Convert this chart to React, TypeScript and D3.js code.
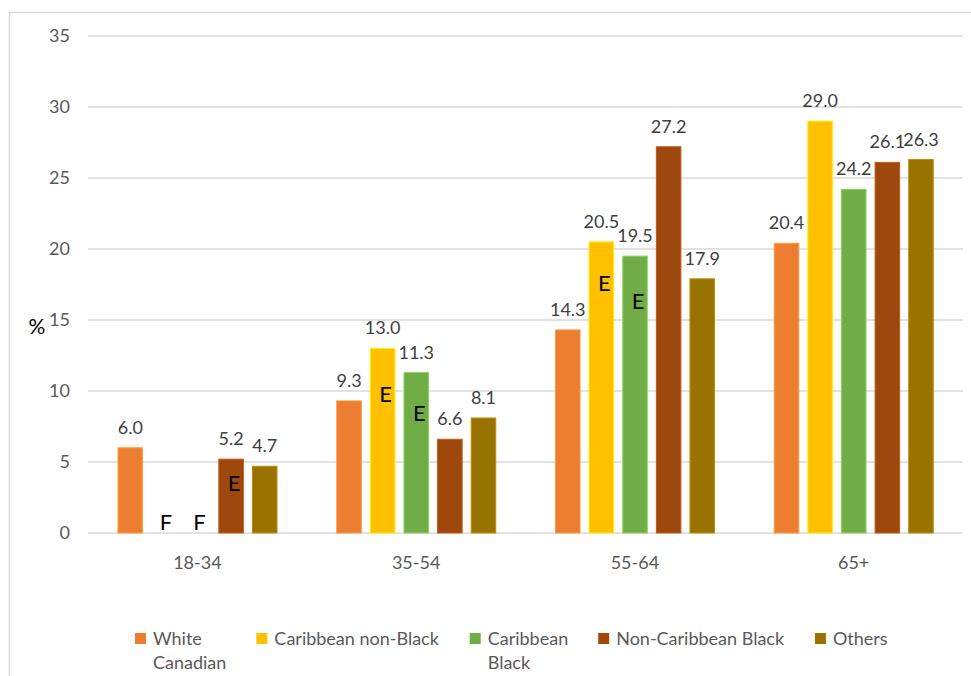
import React, { useRef, useEffect } from "react";
import * as d3 from "d3";

// age groups on the x axis
const categories = ["18-34", "35-54", "55-64", "65+"];
const yTicks = [0, 5, 10, 15, 20, 25, 30, 35];

// percentages per group (null = not reported, "F")
const whiteCanadian = [6.0, 9.3, 14.3, 20.4];
const caribbeanNonBlack = [null, 13.0, 20.5, 29.0];
const caribbeanBlack = [null, 11.3, 19.5, 24.2];
const nonCaribbeanBlack = [5.2, 6.6, 27.2, 26.1];
const others = [4.7, 8.1, 17.9, 26.3];

const seriesNames = [
  "White Canadian",
  "Caribbean non-Black",
  "Caribbean Black",
  "Non-Caribbean Black",
  "Others",
];
const legendLines = [
  ["White", "Canadian"],
  ["Caribbean non-Black"],
  ["Caribbean", "Black"],
  ["Non-Caribbean Black"],
  ["Others"],
];
const seriesValues = [whiteCanadian, caribbeanNonBlack, caribbeanBlack, nonCaribbeanBlack, others];
const colors = ["#ED7D31", "#FFC000", "#70AD47", "#9E480E", "#997300"];

// "E" = use with caution; at = where the letter sits, in % units
const eMarks = [
  { cat: "18-34", series: 3, at: 3.5 },
  { cat: "35-54", series: 1, at: 9.8 },
  { cat: "35-54", series: 2, at: 8.4 },
  { cat: "55-64", series: 1, at: 17.6 },
  { cat: "55-64", series: 2, at: 16.3 },
];

const W = 971;
const H = 676;
const FONT = "Lato, 'Open Sans', sans-serif";

const Chart = () => {
  const svgRef = useRef<SVGSVGElement>(null);

  useEffect(() => {
    const svg = d3.select(svgRef.current);
    svg.selectAll("*").remove();

    // frame
    svg
      .append("rect")
      .attr("x", 9.5)
      .attr("y", 12.5)
      .attr("width", W + 10)
      .attr("height", H + 10)
      .attr("fill", "#fff")
      .attr("stroke", "#d9d9d9")
      .attr("stroke-width", 1.5);

    const x0 = d3.scaleBand().domain(categories).range([88, 963]).padding(0);
    const x1 = d3
      .scaleBand<number>()
      .domain(d3.range(seriesNames.length))
      .range([30, 189])
      .paddingInner(0.27)
      .paddingOuter(0);
    const y = d3.scaleLinear().domain([0, 35]).range([533, 36]);

    // grid
    svg
      .append("g")
      .selectAll("line")
      .data(yTicks)
      .join("line")
      .attr("x1", 88)
      .attr("x2", 963)
      .attr("y1", (d) => y(d))
      .attr("y2", (d) => y(d))
      .attr("stroke", "#d9d9d9")
      .attr("stroke-width", 1.5);

    svg
      .append("g")
      .selectAll("text")
      .data(yTicks)
      .join("text")
      .attr("x", 70)
      .attr("y", (d) => y(d))
      .attr("dy", "0.35em")
      .attr("text-anchor", "end")
      .attr("font-family", FONT)
      .attr("font-size", 18)
      .attr("fill", "#595959")
      .text((d) => d);

    svg
      .append("text")
      .attr("x", 37)
      .attr("y", 334)
      .attr("text-anchor", "middle")
      .attr("font-family", FONT)
      .attr("font-size", 21)
      .attr("fill", "#000")
      .text("%");

    // x labels
    svg
      .append("g")
      .selectAll("text")
      .data(categories)
      .join("text")
      .attr("x", (d) => x0(d)! + x0.bandwidth() / 2)
      .attr("y", 569)
      .attr("text-anchor", "middle")
      .attr("font-family", FONT)
      .attr("font-size", 18)
      .attr("fill", "#595959")
      .text((d) => d);

    // bars
    const groups = svg
      .append("g")
      .selectAll("g")
      .data(categories)
      .join("g")
      .attr("transform", (d) => `translate(${x0(d)},0)`);

    const cells = groups
      .selectAll("g")
      .data((c, ci) => seriesValues.map((vals, si) => ({ si, v: vals[ci] })))
      .join("g");

    cells
      .filter((d) => d.v != null)
      .append("rect")
      .attr("x", (d) => x1(d.si)!)
      .attr("width", x1.bandwidth())
      .attr("y", (d) => y(d.v as number))
      .attr("height", (d) => y(0) - y(d.v as number))
      .attr("fill", (d) => colors[d.si])
      .attr("stroke", (d) => d3.color(colors[d.si])!.brighter(0.6).formatHex())
      .attr("stroke-width", 1);

    cells
      .filter((d) => d.v != null)
      .append("text")
      .attr("x", (d) => x1(d.si)! + x1.bandwidth() / 2)
      .attr("y", (d) => y(d.v as number) - 14)
      .attr("text-anchor", "middle")
      .attr("font-family", FONT)
      .attr("font-size", 18)
      .attr("fill", "#404040")
      .text((d) => (d.v as number).toFixed(1));

    // F marks for suppressed values
    cells
      .filter((d) => d.v == null)
      .append("text")
      .attr("x", (d) => x1(d.si)! + x1.bandwidth() / 2 + 2)
      .attr("y", y(0) - 3)
      .attr("text-anchor", "middle")
      .attr("font-family", FONT)
      .attr("font-size", 22)
      .attr("fill", "#000")
      .text("F");

    // E marks
    svg
      .append("g")
      .selectAll("text")
      .data(eMarks)
      .join("text")
      .attr("x", (d) => x0(d.cat)! + x1(d.series)! + x1.bandwidth() / 2 + 3)
      .attr("y", (d) => y(d.at))
      .attr("dy", "0.35em")
      .attr("text-anchor", "middle")
      .attr("font-family", FONT)
      .attr("font-size", 22)
      .attr("fill", "#000")
      .text("E");

    // legend
    const legend = svg.append("g").attr("transform", "translate(135,0)");
    let lx = 0;
    legendLines.forEach((lines, i) => {
      const item = legend.append("g").attr("transform", `translate(${lx},0)`);
      item
        .append("rect")
        .attr("x", 0)
        .attr("y", 633)
        .attr("width", 11)
        .attr("height", 11)
        .attr("fill", colors[i]);
      const t = item
        .append("text")
        .attr("font-family", FONT)
        .attr("font-size", 18)
        .attr("fill", "#595959");
      lines.forEach((ln, j) => {
        t.append("tspan").attr("x", 18).attr("y", 645 + j * 24).text(ln);
      });
      const w = (t.node() as SVGTextElement).getBBox().width;
      lx += 18 + w + 30;
    });
  }, []);

  return (
    <svg
      ref={svgRef}
      width={W}
      height={H}
      style={{ position: "absolute", left: 0, top: 0, background: "#fff" }}
    />
  );
};

export default function App() {
  return <Chart />;
}
